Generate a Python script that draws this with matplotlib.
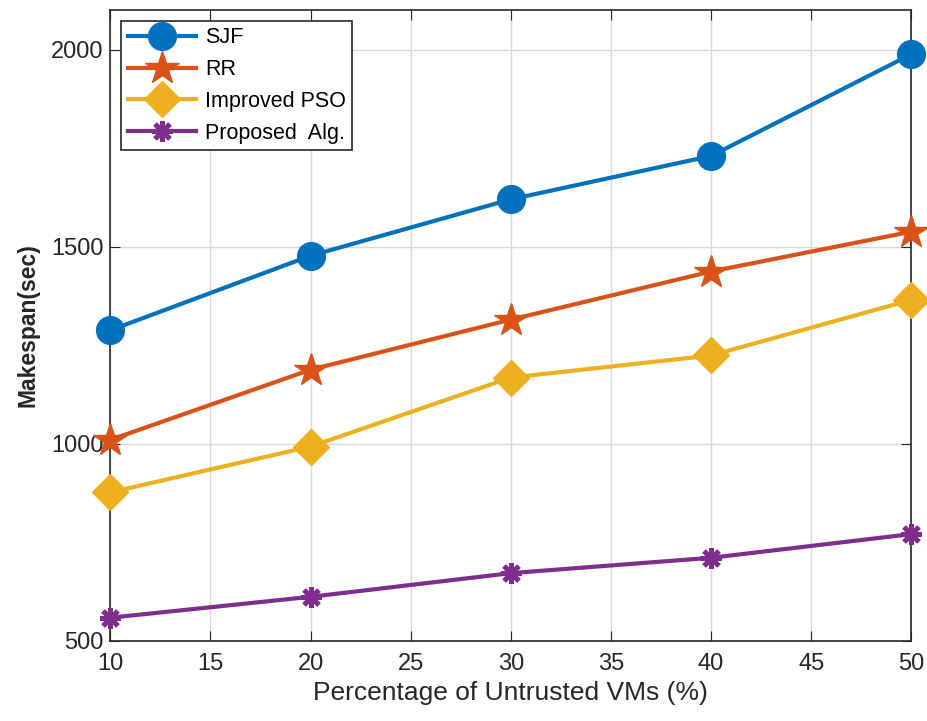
import numpy as np
import matplotlib
matplotlib.use('Agg')
import matplotlib.pyplot as plt

# data
untrusted = [10, 20, 30, 40, 50]
sjf = [1288, 1477, 1620, 1730, 1988]
rr = [1010, 1188, 1315, 1437, 1538]
improved_pso = [877, 993, 1168, 1224, 1365]
proposed = [559, 612, 672, 711, 771]

plt.rcParams['font.family'] = ['Liberation Sans', 'DejaVu Sans']

fig = plt.figure(figsize=(9.27, 7.21), dpi=100)
ax = fig.add_axes([0.119, 0.111, 0.864, 0.875])

ax.plot(untrusted, sjf, color='#0072BD', marker='o', markersize=20, linewidth=3,
        label='SJF', clip_on=False, zorder=3)
ax.plot(untrusted, rr, color='#D95319', marker='*', markersize=25, linewidth=3,
        label='RR', clip_on=False, zorder=3)
ax.plot(untrusted, improved_pso, color='#EDB120', marker='D', markersize=18, linewidth=3,
        label='Improved PSO', clip_on=False, zorder=3)
ax.plot(untrusted, proposed, color='#7E2F8E', marker=(8, 2, 0), markersize=15, markeredgewidth=3.5,
        linewidth=3, label='Proposed  Alg.', clip_on=False, zorder=3)

ax.set_xlim(10, 50)
ax.set_ylim(500, 2100)
ax.set_xticks(np.arange(10, 51, 5))
ax.set_yticks([500, 1000, 1500, 2000])
ax.grid(True, color='#d9d9d9', linewidth=1)
ax.tick_params(direction='in', length=7, labelsize=17, colors='#262626', top=True, right=True)
ax.tick_params(axis='x', pad=9)
ax.tick_params(axis='y', pad=5)
for s in ax.spines.values():
    s.set_color('#262626')
    s.set_linewidth(1.2)

ax.set_xlabel('Percentage of Untrusted VMs (%)', fontsize=19, color='#262626', labelpad=4)
ax.set_ylabel('Makespan(sec)', fontsize=16.5, color='#262626', fontweight='bold', labelpad=8)

leg = ax.legend(loc='upper left', fontsize=15.5, fancybox=False, framealpha=1,
                edgecolor='#262626', handlelength=3.2, borderaxespad=0.5,
                labelspacing=0.5, borderpad=0.3, handletextpad=0.4)
leg.get_frame().set_linewidth(1.2)

fig.savefig('out.png', dpi=100)
